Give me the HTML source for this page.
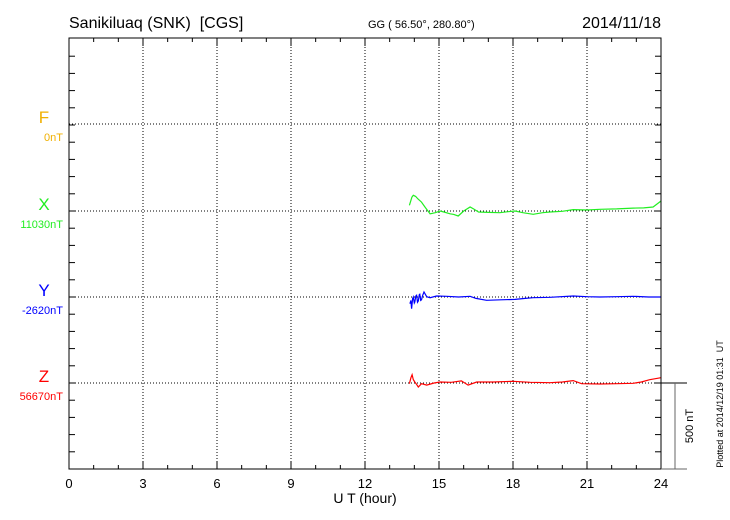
<!DOCTYPE html>
<html><head><meta charset="utf-8"><style>
body{margin:0;background:#fff;}
svg{display:block;font-family:"Liberation Sans",sans-serif;}
</style></head><body>
<svg id="c" width="730" height="520" xmlns="http://www.w3.org/2000/svg">
<text x="69" y="28" font-size="16" style="white-space:pre">Sanikiluaq (SNK)  [CGS]</text>
<text x="368" y="28" font-size="11">GG ( 56.50°, 280.80°)</text>
<text x="661" y="28" font-size="16" text-anchor="end">2014/11/18</text>
<g id="grid"></g>
<g id="series"></g>
<rect x="69" y="38" width="592" height="431" fill="none" stroke="#000" stroke-width="1"/>
<text x="365" y="503" font-size="14" text-anchor="middle">U T (hour)</text>
<g id="labels"></g>
<line x1="661" y1="383" x2="687" y2="383" stroke="#000"/>
<line x1="661" y1="469" x2="687" y2="469" stroke="#666"/>
<line x1="675" y1="383" x2="675" y2="469" stroke="#666"/>
<text transform="translate(693,426) rotate(-90)" font-size="11" text-anchor="middle">500 nT</text>
<text transform="translate(723,404) rotate(-90)" font-size="9" text-anchor="middle" style="white-space:pre">Plotted at 2014/12/19 01:31  UT</text>
</svg>
<script>
const xTicks=[0,3,6,9,12,15,18,21,24];
const compNames=["F","X","Y","Z"];
const compBase=["0nT","11030nT","-2620nT","56670nT"];
const compColors=["#f0b000","#22ee22","#0000ff","#ff0000"];
const gT=[13.8,13.9,13.96,14.05,14.15,14.29,14.45,14.64,14.85,15.04,15.2,15.45,15.6,15.78,16.0,16.26,16.4,16.6,17.0,17.47,17.8,18.08,18.4,18.82,19.2,19.5,20.0,20.44,21.0,21.52,22.2,22.87,23.3,23.68,24.0];
const gV=[33,80,91,85,70,52,20,-16,-10,0,-6,-16,-20,-29,0,23,12,-6,-8,-10,-4,0,-10,-19,-10,-6,-2,8,6,10,12,17,18,23,58];
const bT=[13.82,13.86,13.89,13.93,13.96,14.0,14.02,14.06,14.09,14.13,14.16,14.2,14.22,14.26,14.29,14.34,14.39,14.5,14.64,14.9,15.31,15.8,16.26,16.5,16.93,17.5,18.08,18.5,18.82,19.5,20.44,21.0,21.52,22.2,22.87,23.5,24.0];
const bV=[-39,-20,-68,-10,0,-35,-29,5,10,-30,-23,14,16,-20,-16,10,29,2,-4,6,4,0,4,-8,-19,-16,-14,-8,-4,-2,6,2,0,2,4,0,0];
const rT=[13.8,13.86,13.91,13.96,14.02,14.1,14.16,14.29,14.5,14.8,15.04,15.5,15.91,16.18,16.53,17.2,18.0,18.7,19.5,20.0,20.44,20.78,21.52,22.2,22.87,23.2,23.54,24.0];
const rV=[-4,30,48,20,6,-10,-23,-4,-12,0,6,4,12,-12,6,6,10,4,2,6,14,-4,-6,-4,-2,6,19,31];
const NS="http://www.w3.org/2000/svg";
const L=69,R=661,T=38,B=469;
const baseY=[124,211,297,383];
const pxPerNT=86/500;
const xS=h=>L+h/24*(R-L);
const yS=(i,v)=>baseY[i]-v*pxPerNT;
function mk(tag,at,parent){const e=document.createElementNS(NS,tag);for(const k in at)e.setAttribute(k,at[k]);parent.appendChild(e);return e;}
const grid=document.getElementById('grid');
for(let h=0;h<=24;h++){
  const x=xS(h);
  const t1=mk('line',{x1:x,y1:T,x2:x,y2:T+4,stroke:'#000'},grid);
  
  
  const t2=mk('line',{x1:x,y1:B,x2:x,y2:B-4,stroke:'#000'},grid);
  
  
}
xTicks.forEach(h=>{
  const x=xS(h);
  if(h>0&&h<24){const g=mk('line',{x1:x,y1:T,x2:x,y2:B,stroke:'#000','stroke-dasharray':'1,2'},grid);
  
  }
  const tk=mk('line',{x1:x,y1:T,x2:x,y2:T+8,stroke:'#000'},grid);
  
  
  const tk2=mk('line',{x1:x,y1:B,x2:x,y2:B-8,stroke:'#000'},grid);
  
  
  const tx=mk('text',{x:x,y:488,'font-size':13,'text-anchor':'middle'},grid);
  tx.textContent=h;
  
  
});
for(let y=B-17.2;y>T+2;y-=17.2){
  const a=mk('line',{x1:L,y1:y,x2:L+6,y2:y,stroke:'#000'},grid);
  
  
  const b=mk('line',{x1:R,y1:y,x2:R-6,y2:y,stroke:'#000'},grid);
  
  
}
baseY.forEach(y=>{
  const g=mk('line',{x1:L,y1:y,x2:R,y2:y,stroke:'#000','stroke-dasharray':'1,2'},grid);
  
  
});
const lab=document.getElementById('labels');
compNames.forEach((n,i)=>{
  const a=mk('text',{x:44,y:baseY[i]-1,'font-size':17,'text-anchor':'middle',fill:compColors[i]},lab);
  a.textContent=n;
  
  
  const b=mk('text',{x:63,y:baseY[i]+17,'font-size':11,'text-anchor':'end',fill:compColors[i]},lab);
  b.textContent=compBase[i];
  
  
});
const ser=document.getElementById('series');
[[gT,gV,1,'x'],[bT,bV,2,'y'],[rT,rV,3,'z']].forEach(([ts,vs,i,n])=>{
  const d=ts.map((t,k)=>(k?'L':'M')+xS(t).toFixed(1)+','+yS(i,vs[k]).toFixed(1)).join('');
  const p=mk('path',{d:d,fill:'none',stroke:compColors[i],'stroke-width':1.2},ser);
  
  
});
</script>
</body></html>
